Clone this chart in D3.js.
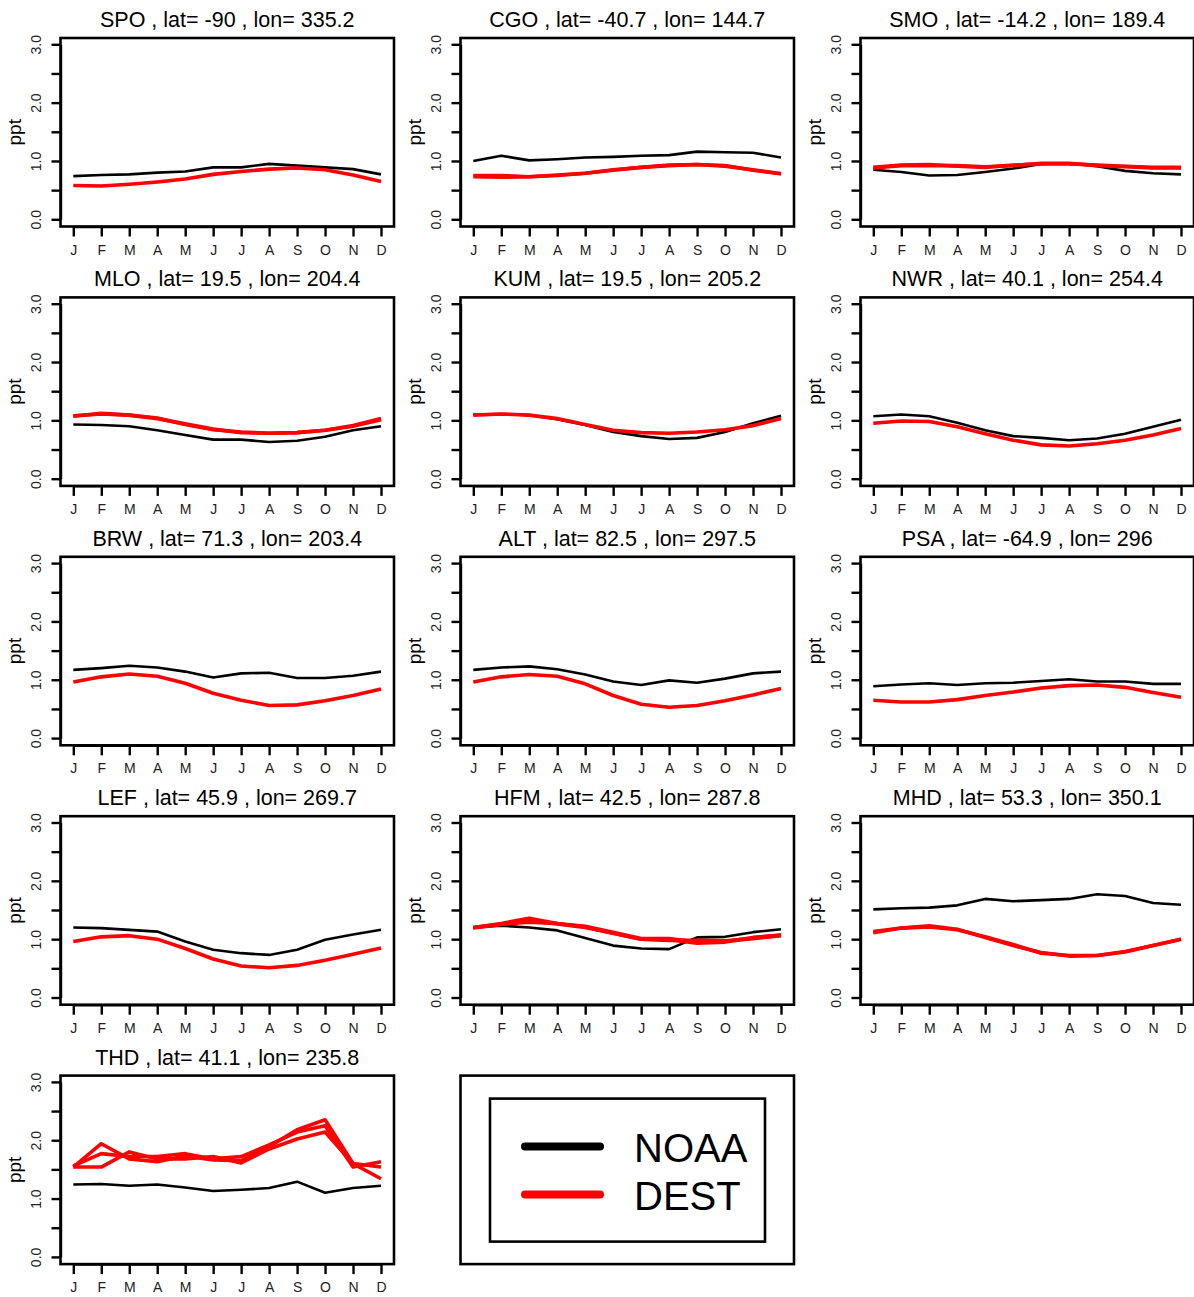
<!DOCTYPE html>
<html>
<head>
<meta charset="utf-8">
<script src="https://cdn.jsdelivr.net/npm/d3@7"></script>
<style>
  body { margin: 0; background: #fff; }
  svg { font-family: "Liberation Sans", Arial, sans-serif; }
</style>
</head>
<body>
<svg width="1194" height="1297"></svg>
<script>
const months = ['J','F','M','A','M','J','J','A','S','O','N','D']
const stations = ['SPO','CGO','SMO','MLO','KUM','NWR','BRW','ALT','PSA','LEF','HFM','MHD','THD']
const lats = ['-90','-40.7','-14.2','19.5','19.5','40.1','71.3','82.5','-64.9','45.9','42.5','53.3','41.1']
const lons = ['335.2','144.7','189.4','204.4','205.2','254.4','203.4','297.5','296','269.7','287.8','350.1','235.8']
const yTicks = [0, 0.5, 1, 1.5, 2, 2.5, 3]

// NOAA observed monthly means, one row per station
const noaa = [
  [0.74,0.76,0.77,0.80,0.82,0.89,0.89,0.95,0.92,0.89,0.86,0.77],
  [1.00,1.09,1.01,1.03,1.06,1.07,1.09,1.10,1.16,1.15,1.14,1.06],
  [0.85,0.81,0.75,0.76,0.81,0.87,0.95,0.96,0.91,0.83,0.79,0.77],
  [0.93,0.92,0.90,0.83,0.75,0.67,0.67,0.63,0.65,0.72,0.83,0.90],
  [1.10,1.11,1.09,1.02,0.92,0.80,0.73,0.68,0.70,0.80,0.95,1.08],
  [1.07,1.10,1.07,0.96,0.83,0.73,0.70,0.66,0.69,0.77,0.89,1.01],
  [1.17,1.20,1.24,1.21,1.14,1.04,1.11,1.12,1.03,1.03,1.07,1.14],
  [1.17,1.21,1.23,1.18,1.09,0.97,0.91,0.99,0.95,1.02,1.11,1.14],
  [0.89,0.92,0.94,0.91,0.94,0.95,0.98,1.01,0.97,0.97,0.93,0.93],
  [1.20,1.19,1.16,1.13,0.96,0.82,0.76,0.73,0.82,0.99,1.08,1.16],
  [1.20,1.23,1.20,1.15,1.02,0.89,0.84,0.83,1.03,1.04,1.12,1.17],
  [1.51,1.53,1.54,1.58,1.69,1.65,1.67,1.69,1.77,1.74,1.62,1.59],
  [1.24,1.25,1.22,1.24,1.19,1.13,1.15,1.18,1.29,1.10,1.18,1.22]
]

// DEST model monthly means, one or more runs per station
const dest = [
  [[0.58,0.57,0.60,0.64,0.69,0.77,0.82,0.86,0.88,0.85,0.76,0.65]],
  [[0.75,0.75,0.73,0.75,0.79,0.85,0.89,0.93,0.94,0.91,0.85,0.78],
   [0.73,0.72,0.73,0.76,0.79,0.84,0.89,0.92,0.94,0.92,0.84,0.78]],
  [[0.89,0.93,0.94,0.91,0.89,0.93,0.95,0.95,0.93,0.91,0.89,0.89],
   [0.88,0.92,0.92,0.92,0.90,0.92,0.96,0.96,0.92,0.90,0.88,0.88]],
  [[1.08,1.11,1.09,1.03,0.94,0.85,0.79,0.78,0.79,0.83,0.91,1.03],
   [1.07,1.12,1.09,1.04,0.93,0.84,0.80,0.78,0.79,0.83,0.90,1.01]],
  [[1.09,1.11,1.09,1.03,0.93,0.83,0.79,0.78,0.80,0.84,0.91,1.03]],
  [[0.95,0.99,0.98,0.89,0.77,0.66,0.58,0.56,0.60,0.66,0.75,0.86]],
  [[0.96,1.05,1.10,1.06,0.94,0.77,0.65,0.56,0.57,0.64,0.73,0.84]],
  [[0.96,1.05,1.09,1.06,0.93,0.73,0.58,0.53,0.56,0.64,0.74,0.85]],
  [[0.65,0.62,0.62,0.66,0.73,0.79,0.86,0.90,0.91,0.87,0.78,0.70]],
  [[0.96,1.04,1.06,1.00,0.84,0.66,0.54,0.51,0.55,0.64,0.74,0.85]],
  [[1.20,1.27,1.36,1.27,1.22,1.12,1.01,1.01,0.95,0.96,1.03,1.07],
   [1.20,1.26,1.29,1.27,1.21,1.10,1.00,0.98,0.98,0.97,1.01,1.06],
   [1.19,1.25,1.31,1.26,1.20,1.10,1.00,0.99,0.93,0.95,1.02,1.07]],
  [[1.13,1.19,1.23,1.17,1.03,0.89,0.77,0.71,0.72,0.79,0.89,1.00],
   [1.11,1.19,1.21,1.16,1.04,0.91,0.76,0.72,0.72,0.78,0.89,1.00]],
  [[1.54,1.94,1.68,1.63,1.73,1.66,1.65,1.89,2.18,2.35,1.60,1.34],
   [1.56,1.77,1.72,1.72,1.77,1.68,1.72,1.92,2.14,2.25,1.54,1.63],
   [1.54,1.54,1.80,1.68,1.68,1.72,1.61,1.85,2.02,2.14,1.60,1.54]]
]

const svg = d3.select('svg')
const cellW = 400
const cellH = 259.4
const box = { left: 60.5, right: 394, top: 38, bottom: 226.5 }

const x = d3.scaleLinear().domain([0, 11]).range([73.3, 381])
const y = d3.scaleLinear().domain([0, 3]).range([219.3, 44.3])

const line = d3.line()
    .x((d, i) => x(i))
    .y(d => y(d))

const frame = (g) => {
    g.append('rect')
        .attr('x', box.left)
        .attr('y', box.top)
        .attr('width', box.right - box.left)
        .attr('height', box.bottom - box.top)
        .attr('fill', 'none')
        .attr('stroke', '#000')
        .attr('stroke-width', 2.6)
}

stations.forEach((st, k) => {
    const col = k % 3
    const row = Math.floor(k / 3)
    const g = svg.append('g')
        .attr('transform', `translate(${col * cellW}, ${row * cellH})`)

    g.append('text')
        .attr('x', (box.left + box.right) / 2)
        .attr('y', 27)
        .attr('text-anchor', 'middle')
        .attr('font-size', 21.5)
        .text(`${st} , lat= ${lats[k]} , lon= ${lons[k]}`)

    const yAxis = g.append('g')
        .attr('transform', `translate(${box.left},0)`)
        .call(d3.axisLeft(y).tickValues(yTicks).tickSize(9).tickSizeOuter(0)
            .tickFormat(d => d % 1 === 0 ? d.toFixed(1) : ''))
    yAxis.selectAll('text')
        .attr('x', null).attr('dy', null)
        .attr('text-anchor', 'middle')
        .attr('transform', 'translate(-20,0) rotate(-90)')

    const xAxis = g.append('g')
        .attr('transform', `translate(0,${box.bottom})`)
        .call(d3.axisBottom(x).tickValues(d3.range(12)).tickSize(10).tickSizeOuter(0)
            .tickFormat(i => months[i]))
    xAxis.selectAll('text').attr('dy', null).attr('y', 28)

    g.selectAll('.domain, .tick line')
        .attr('stroke', '#000')
        .attr('stroke-width', 2.4)
    g.selectAll('.tick text')
        .attr('font-size', 14)
        .attr('font-family', '"Liberation Sans", Arial, sans-serif')
        .attr('fill', '#222')

    g.append('text')
        .attr('transform', `translate(21,${(box.top + box.bottom) / 2}) rotate(-90)`)
        .attr('text-anchor', 'middle')
        .attr('font-size', 19)
        .text('ppt')

    g.append('path')
        .attr('d', line(noaa[k]))
        .attr('fill', 'none')
        .attr('stroke', '#000')
        .attr('stroke-width', 2.6)
        .attr('stroke-linejoin', 'round')

    g.selectAll('.dest')
        .data(dest[k])
        .enter().append('path')
        .attr('class', 'dest')
        .attr('d', line)
        .attr('fill', 'none')
        .attr('stroke', '#ff0000')
        .attr('stroke-width', 3.6)
        .attr('stroke-linejoin', 'round')

    frame(g)
})

// legend panel
const lg = svg.append('g')
    .attr('transform', `translate(${cellW}, ${4 * cellH})`)
frame(lg)

lg.append('rect')
    .attr('x', 90)
    .attr('y', 61)
    .attr('width', 275)
    .attr('height', 143)
    .attr('fill', 'none')
    .attr('stroke', '#000')
    .attr('stroke-width', 2.6)

const legendItems = [{ name: 'NOAA', color: '#000' }, { name: 'DEST', color: '#ff0000' }]
const li = lg.selectAll('.item')
    .data(legendItems)
    .enter().append('g')
    .attr('transform', (d, i) => `translate(0, ${109 + i * 48})`)

li.append('line')
    .attr('x1', 125).attr('x2', 200)
    .attr('stroke', d => d.color)
    .attr('stroke-width', 8)
    .attr('stroke-linecap', 'round')

li.append('text')
    .attr('x', 234)
    .attr('y', 15)
    .attr('font-size', 40)
    .text(d => d.name)
</script>
</body>
</html>
